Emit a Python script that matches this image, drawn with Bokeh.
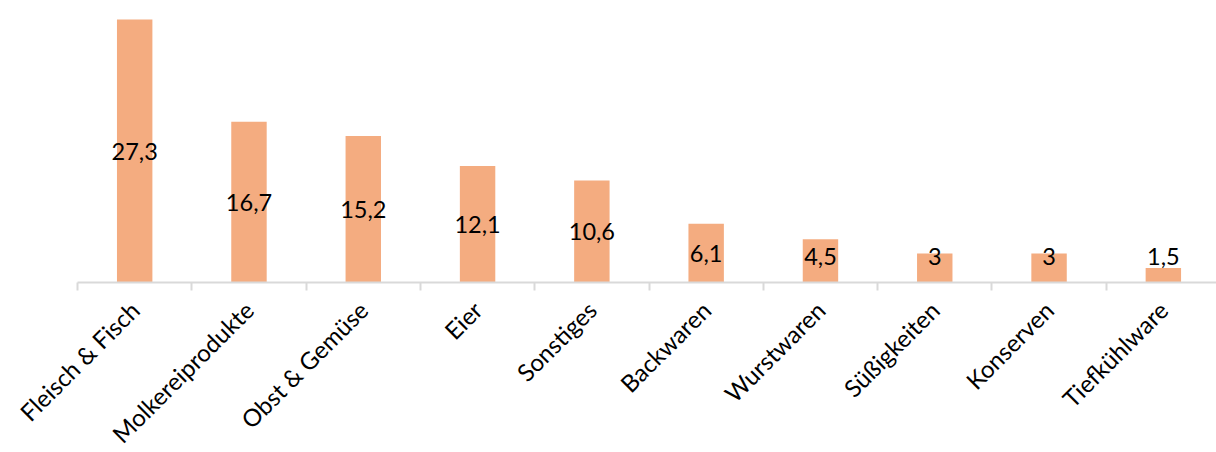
import math
from bokeh.plotting import figure
from bokeh.models import Range1d, FixedTicker, ColumnDataSource
from bokeh.core.properties import value
from bokeh.embed import file_html
from bokeh.resources import INLINE

categories = ["Fleisch & Fisch", "Molkereiprodukte", "Obst & Gemüse", "Eier", "Sonstiges",
              "Backwaren", "Wurstwaren", "Süßigkeiten", "Konserven", "Tiefkühlware"]
values = [27.3, 16.7, 15.2, 12.1, 10.6, 6.1, 4.5, 3, 3, 1.5]
value_labels = [f"{v:g}".replace(".", ",") for v in values]

FONT = "Lato"
BAR_COLOR = "#F4AC80"
AXIS_COLOR = "#D9D9D9"

n = len(categories)
centers = [i + 0.5 for i in range(n)]
label_y = [max(v / 2, 2.7) for v in values]

src = ColumnDataSource(dict(x=centers, top=values, ly=label_y, lab=value_labels))

p = figure(width=1216, height=452, output_backend="svg", toolbar_location=None,
           x_range=Range1d(-0.674, 9.965), y_range=Range1d(-17.65, 29.28),
           min_border_left=0, min_border_right=0, min_border_top=0, min_border_bottom=0)
p.outline_line_color = None
p.xgrid.visible = False
p.ygrid.visible = False
p.yaxis.visible = False
p.background_fill_color = "white"
p.border_fill_color = "white"

p.vbar(x="x", top="top", width=0.31, source=src, fill_color=BAR_COLOR, line_color=None)
p.text(x="x", y="ly", text="lab", source=src, text_font=value(FONT), text_font_size="23.5px",
       text_align="center", text_baseline="middle", text_color="black")

ax = p.xaxis[0]
ax.fixed_location = 0
ax.bounds = (0, n)
ax.ticker = FixedTicker(ticks=centers, minor_ticks=list(range(n)))
ax.major_label_overrides = {c: cat for c, cat in zip(centers, categories)}
ax.major_label_orientation = math.pi / 4
ax.major_label_text_font = FONT
ax.major_label_text_font_size = "24px"
ax.major_label_text_color = "black"
ax.major_tick_line_color = None
ax.minor_tick_line_color = AXIS_COLOR
ax.minor_tick_line_width = 2
ax.minor_tick_out = 8
ax.minor_tick_in = 0
ax.axis_line_color = AXIS_COLOR
ax.axis_line_width = 2
ax.major_label_standoff = 15

open("out.html", "w").write(file_html(p, INLINE))
